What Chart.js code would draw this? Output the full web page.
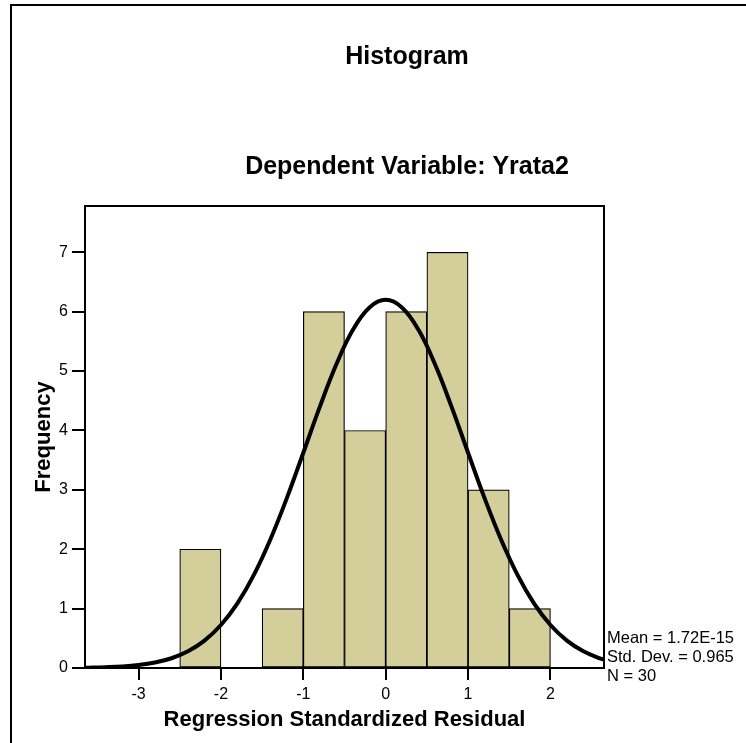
<!DOCTYPE html>
<html>
<head>
<meta charset="utf-8">
<script src="https://cdn.jsdelivr.net/npm/chart.js@4.4.1/dist/chart.umd.min.js"></script>
<style>
    html, body { margin: 0; padding: 0; background: #fff; overflow: hidden; }
    #wrap { position: relative; width: 814px; height: 743px; }
    #frame { position: absolute; left: 10px; top: 4px; width: 790px; height: 800px; border: 2px solid #000; }
    #histChart { position: absolute; left: 0; top: 0; }
    #stats { position: absolute; left: 607px; top: 628px; font: 16.5px "Liberation Sans", Arial, sans-serif; line-height: 19px; color: #000; white-space: nowrap; }
</style>
</head>
<body>
<div id="wrap">
    <div id="frame"></div>
    <canvas id="histChart" width="814" height="743"></canvas>
    <div id="stats">Mean = 1.72E-15<br>Std. Dev. = 0.965<br>N = 30</div>
</div>
<script>
// bin centres (width 0.5) and counts
const binCenters = [-2.25, -1.75, -1.25, -0.75, -0.25, 0.25, 0.75, 1.25, 1.75];
const binCounts = [2, 0, 1, 6, 4, 6, 7, 3, 1];

// normal curve
const curveX = [-3.7, -3.6, -3.4, -3.2, -3.0, -2.8, -2.6, -2.4, -2.2, -2.0, -1.8, -1.6, -1.4, -1.2, -1.0, -0.8, -0.6, -0.4, -0.2,
    0, 0.2, 0.4, 0.6, 0.8, 1.0, 1.2, 1.4, 1.6, 1.8, 2.0, 2.2, 2.4, 2.6, 2.7];
const curveY = [0.004, 0.006, 0.013, 0.025, 0.049, 0.092, 0.164, 0.281, 0.461, 0.724, 1.089, 1.569, 2.165, 2.861, 3.625, 4.397, 5.110, 5.690, 6.068,
    6.200, 6.068, 5.690, 5.110, 4.397, 3.625, 2.861, 2.165, 1.569, 1.089, 0.724, 0.461, 0.281, 0.164, 0.124];

const xTicks = [-3, -2, -1, 0, 1, 2];
const yTicks = [0, 1, 2, 3, 4, 5, 6, 7];

Chart.defaults.font.family = '"Liberation Sans", Arial, sans-serif';
Chart.defaults.color = '#000';

const plotFrame = {
    id: 'plotFrame',
    afterDatasetsDraw(chart) {
        const { ctx, chartArea: a } = chart;
        ctx.save();
        ctx.strokeStyle = '#000';
        ctx.lineWidth = 2;
        ctx.strokeRect(a.left, a.top, a.right - a.left, a.bottom - a.top);
        ctx.restore();
    }
};

new Chart(document.getElementById('histChart'), {
    type: 'bar',
    data: {
        datasets: [{
            type: 'line',
            data: curveX.map((x, i) => ({ x, y: curveY[i] })),
            borderColor: '#000',
            borderWidth: 4,
            pointRadius: 0,
            tension: 0.4,
            fill: false,
            order: 0
        }, {
            data: binCenters.map((x, i) => ({ x, y: binCounts[i] })),
            backgroundColor: '#d3ce9a',
            borderColor: '#000',
            borderWidth: 1.2,
            borderSkipped: false,
            barPercentage: 1,
            categoryPercentage: 1,
            order: 1
        }]
    },
    options: {
        responsive: false,
        animation: false,
        layout: { padding: 0 },
        plugins: {
            legend: { display: false },
            tooltip: { enabled: false },
            title: {
                display: true,
                text: 'Histogram',
                font: { size: 25, weight: 'bold' },
                padding: { top: 42, bottom: 0 }
            },
            subtitle: {
                display: true,
                text: 'Dependent Variable: Yrata2',
                color: '#000',
                font: { size: 25, weight: 'bold' },
                padding: { top: 80, bottom: 24 }
            }
        },
        scales: {
            x: {
                type: 'linear',
                offset: false,
                min: -3.65,
                max: 2.65,
                ticks: { stepSize: 1, font: { size: 16 }, padding: 5 },
                afterBuildTicks: s => { s.ticks = xTicks.map(v => ({ value: v })); },
                afterFit: s => { s.height = 75; },
                grid: { offset: false, drawOnChartArea: false, drawTicks: true, tickLength: 12, color: '#000', lineWidth: 2 },
                border: { display: false },
                title: {
                    display: true,
                    text: 'Regression Standardized Residual',
                    font: { size: 22, weight: 'bold' },
                    padding: { top: 0, bottom: 10 }
                }
            },
            y: {
                min: 0,
                max: 7.78,
                ticks: { stepSize: 1, font: { size: 16 }, padding: 4 },
                afterBuildTicks: s => { s.ticks = yTicks.map(v => ({ value: v })); },
                afterFit: s => { s.width = 85; },
                grid: { drawOnChartArea: false, drawTicks: true, tickLength: 13, color: '#000', lineWidth: 2 },
                border: { display: false },
                title: {
                    display: true,
                    text: 'Frequency',
                    font: { size: 22, weight: 'bold' },
                    padding: { top: 31, bottom: 0 }
                }
            },
            yRight: {
                position: 'right',
                min: 0,
                max: 1,
                ticks: { display: false },
                grid: { display: false },
                border: { display: false },
                afterFit: s => { s.width = 210; }
            }
        }
    },
    plugins: [plotFrame]
});
</script>
</body>
</html>
